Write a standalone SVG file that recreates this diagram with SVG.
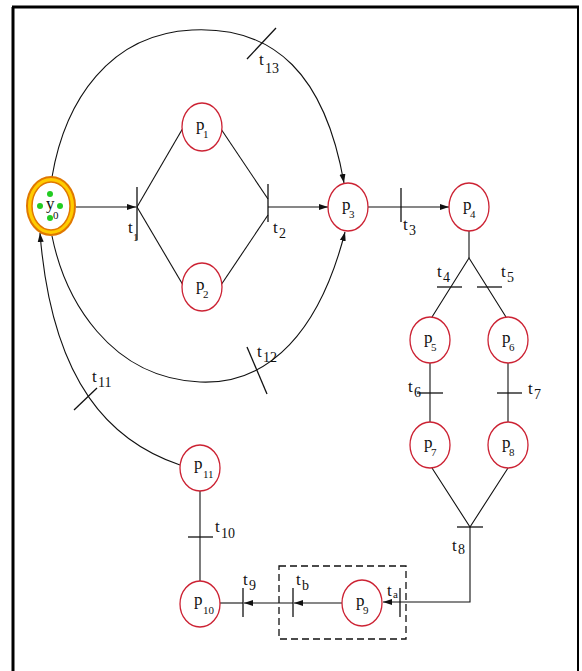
<svg xmlns="http://www.w3.org/2000/svg" width="582" height="671" viewBox="0 0 582 671">
<style>
.pl{fill:#fff;stroke:#cc2233;stroke-width:1.3}
.ln{fill:none;stroke:#111;stroke-width:1.1}
.bar{stroke:#111;stroke-width:1.3}
.lt{font-family:"Liberation Serif",serif;font-size:17px;fill:#111}
.ls{font-family:"Liberation Serif",serif;font-size:14px;fill:#111}
.pt{font-family:"Liberation Serif",serif;font-size:17px;fill:#111}
.ps{font-family:"Liberation Serif",serif;font-size:11px;fill:#111}
</style>
<defs>
<marker id="ar" markerUnits="userSpaceOnUse" markerWidth="10" markerHeight="8" refX="9" refY="3.5" orient="auto">
<path d="M0,0.5 L9,3.5 L0,6.5 z" fill="#111"/>
</marker>
</defs>
<rect width="582" height="671" fill="#fff"/>
<g id="frame" fill="none" stroke="#000">
<line x1="13" y1="7" x2="13" y2="671" stroke-width="3"/>
<line x1="12" y1="7" x2="579" y2="7" stroke-width="3"/>
<line x1="578" y1="7" x2="578" y2="671" stroke-width="2"/>
</g>
<g id="connectors">
<line class="ln" x1="76" y1="207" x2="136" y2="207" marker-end="url(#ar)"/>
<line class="ln" x1="137" y1="207" x2="183" y2="128"/>
<line class="ln" x1="137" y1="207" x2="183" y2="285"/>
<line class="ln" x1="221" y1="129" x2="268" y2="199"/>
<line class="ln" x1="221" y1="285" x2="268" y2="215"/>
<line class="ln" x1="268" y1="207" x2="328" y2="207" marker-end="url(#ar)"/>
<line class="ln" x1="368" y1="207" x2="449" y2="207" marker-end="url(#ar)"/>
<line class="ln" x1="469" y1="230" x2="469" y2="258"/>
<polyline class="ln" points="432,317 469,258 506,317"/>
<line class="ln" x1="430" y1="363" x2="430" y2="422"/>
<line class="ln" x1="508" y1="363" x2="508" y2="422"/>
<polyline class="ln" points="432,468 470,527 508,468"/>
<polyline class="ln" points="470,527 470,602 383,602" marker-end="url(#ar)"/>
<line class="ln" x1="342" y1="603" x2="294" y2="603" marker-end="url(#ar)"/>
<line class="ln" x1="293" y1="603" x2="244" y2="603" marker-end="url(#ar)"/>
<line class="ln" x1="243" y1="603" x2="220" y2="603"/>
<line class="ln" x1="200" y1="581" x2="200" y2="491"/>
<path class="ln" d="M180,465 C112,442 52,385 40,233" marker-end="url(#ar)"/>
<path class="ln" d="M52,177 C65,100 110,34 192,30 C275,26 325,75 344,183" marker-end="url(#ar)"/>
<path class="ln" d="M52,236 C65,300 110,378 200,382 C270,385 320,330 345,232" marker-end="url(#ar)"/>
<rect x="279" y="566" width="127" height="73" fill="none" stroke="#111" stroke-width="1.3" stroke-dasharray="7,4"/>
</g>
<g id="transitions">
<g id="t1"><line class="bar" x1="137" y1="187" x2="137" y2="240"/><text class="lt" x="128" y="233">t</text><text class="ps" x="133" y="241">1</text></g>
<g id="t2"><line class="bar" x1="268" y1="184" x2="268" y2="222"/><text class="lt" x="273" y="233">t</text><text class="ls" x="279" y="238">2</text></g>
<g id="t3"><line class="bar" x1="401" y1="188" x2="401" y2="222"/><text class="lt" x="403" y="230">t</text><text class="ls" x="409" y="235">3</text></g>
<g id="t4"><line class="bar" x1="437" y1="287" x2="462" y2="287"/><text class="lt" x="437" y="277">t</text><text class="ls" x="443" y="282">4</text></g>
<g id="t5"><line class="bar" x1="477" y1="287" x2="502" y2="287"/><text class="lt" x="501" y="277">t</text><text class="ls" x="507" y="282">5</text></g>
<g id="t6"><line class="bar" x1="417" y1="393" x2="443" y2="393"/><text class="lt" x="408" y="392">t</text><text class="ls" x="414" y="397">6</text></g>
<g id="t7"><line class="bar" x1="497" y1="393" x2="522" y2="393"/><text class="lt" x="528" y="394">t</text><text class="ls" x="534" y="399">7</text></g>
<g id="t8"><line class="bar" x1="457" y1="527" x2="483" y2="527"/><text class="lt" x="452" y="551">t</text><text class="ls" x="458" y="554">8</text></g>
<g id="t9"><line class="bar" x1="243" y1="588" x2="243" y2="617"/><text class="lt" x="243" y="585">t</text><text class="ls" x="249" y="590">9</text></g>
<g id="tb"><line class="bar" x1="293" y1="588" x2="293" y2="617"/><text class="lt" x="296" y="585">t</text><text class="ls" x="302" y="590">b</text></g>
<g id="ta"><line class="bar" x1="400" y1="588" x2="400" y2="617"/><text class="lt" x="387" y="596">t</text><text class="ps" x="393" y="598">a</text></g>
<g id="t10"><line class="bar" x1="188" y1="537" x2="213" y2="537"/><text class="lt" x="215" y="532">t</text><text class="ls" x="221" y="538">10</text></g>
<g id="t11"><line class="bar" x1="74" y1="410" x2="97" y2="388"/><text class="lt" x="92" y="382">t</text><text class="ls" x="98" y="387">11</text></g>
<g id="t12"><line class="bar" x1="247" y1="347" x2="267" y2="394"/><text class="lt" x="257" y="357">t</text><text class="ls" x="263" y="362">12</text></g>
<g id="t13"><line class="bar" x1="247" y1="59" x2="276" y2="28"/><text class="lt" x="259" y="65">t</text><text class="ls" x="265" y="73">13</text></g>
</g>
<g id="y0">
<ellipse cx="51" cy="206" rx="24" ry="29" fill="#ffcc00" stroke="#e07800" stroke-width="2"/>
<ellipse cx="51" cy="206" rx="19" ry="24" fill="#fff" stroke="#e07800" stroke-width="1.5"/>
<circle cx="50" cy="194" r="3" fill="#22cc22"/>
<circle cx="40" cy="206" r="3" fill="#22cc22"/>
<circle cx="60" cy="206" r="3" fill="#22cc22"/>
<circle cx="50" cy="218" r="3" fill="#22cc22"/>
<text class="pt" x="46" y="209">y</text><text class="ps" x="53" y="219">0</text>
</g>
<g id="p1"><ellipse class="pl" cx="202" cy="127" rx="20" ry="24"/><text class="pt" x="196" y="130">p</text><text class="ps" x="203" y="138">1</text></g>
<g id="p2"><ellipse class="pl" cx="202" cy="287" rx="20" ry="24"/><text class="pt" x="196" y="290">p</text><text class="ps" x="203" y="298">2</text></g>
<g id="p3"><ellipse class="pl" cx="348" cy="207" rx="20" ry="24"/><text class="pt" x="342" y="210">p</text><text class="ps" x="349" y="218">3</text></g>
<g id="p4"><ellipse class="pl" cx="469" cy="207" rx="20" ry="24"/><text class="pt" x="463" y="210">p</text><text class="ps" x="470" y="218">4</text></g>
<g id="p5"><ellipse class="pl" cx="430" cy="340" rx="20" ry="23"/><text class="pt" x="424" y="343">p</text><text class="ps" x="431" y="351">5</text></g>
<g id="p6"><ellipse class="pl" cx="508" cy="340" rx="20" ry="23"/><text class="pt" x="502" y="343">p</text><text class="ps" x="509" y="351">6</text></g>
<g id="p7"><ellipse class="pl" cx="430" cy="445" rx="20" ry="23"/><text class="pt" x="424" y="448">p</text><text class="ps" x="431" y="456">7</text></g>
<g id="p8"><ellipse class="pl" cx="508" cy="445" rx="20" ry="23"/><text class="pt" x="502" y="448">p</text><text class="ps" x="509" y="456">8</text></g>
<g id="p9"><ellipse class="pl" cx="362" cy="603" rx="20" ry="23"/><text class="pt" x="356" y="606">p</text><text class="ps" x="363" y="614">9</text></g>
<g id="p10"><ellipse class="pl" cx="200" cy="604" rx="20" ry="23"/><text class="pt" x="194" y="605">p</text><text class="ps" x="203" y="614">10</text></g>
<g id="p11"><ellipse class="pl" cx="200" cy="468" rx="20" ry="23"/><text class="pt" x="194" y="469">p</text><text class="ps" x="203" y="478">11</text></g>
</svg>
